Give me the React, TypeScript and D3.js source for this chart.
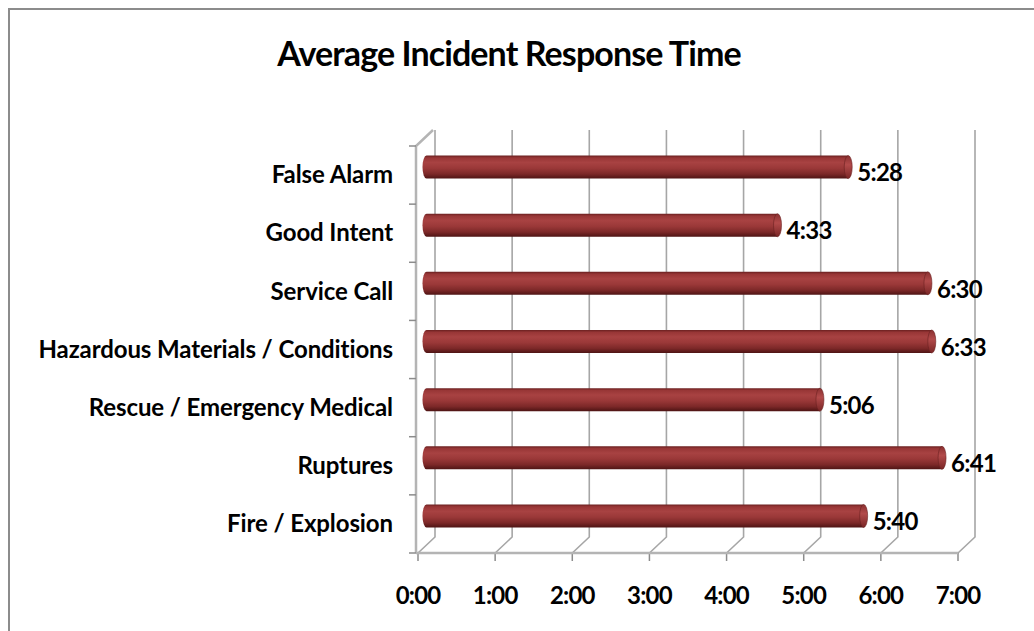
import React, { useEffect, useRef } from 'react';
import * as d3 from 'd3';

// categories listed top to bottom
const categories = [
  'False Alarm',
  'Good Intent',
  'Service Call',
  'Hazardous Materials / Conditions',
  'Rescue / Emergency Medical',
  'Ruptures',
  'Fire / Explosion',
];
// average response time, in seconds
const responseSeconds = [328, 273, 390, 393, 306, 401, 340];
const tickSeconds = [0, 60, 120, 180, 240, 300, 360, 420];

const fmt = (s: number) => `${Math.floor(s / 60)}:${String(s % 60).padStart(2, '0')}`;

const App: React.FC = () => {
  const ref = useRef<SVGSVGElement>(null);

  useEffect(() => {
    if (!ref.current) return;
    const svg = d3.select(ref.current);
    svg.selectAll('*').remove();

    const width = 1034;
    const height = 631;
    const font = 'Lato, "Open Sans", sans-serif';

    // 3d depth offset (front -> back)
    const dx = 17;
    const dy = -16;
    const front = { left: 418, right: 958, top: 146, bottom: 553 };

    const x = d3.scaleLinear().domain([0, 420]).range([front.left, front.right]);
    const y = d3.scaleBand().domain(categories).range([front.top, front.bottom]);

    const defs = svg.append('defs');
    const grad = defs.append('linearGradient')
      .attr('id', 'cyl').attr('x1', 0).attr('y1', 0).attr('x2', 0).attr('y2', 1);
    [
      [0, '#6a2020'], [0.1, '#983636'], [0.3, '#a84242'], [0.55, '#9a3838'],
      [0.8, '#7c2828'], [1, '#4e1414'],
    ].forEach(([o, c]) => grad.append('stop').attr('offset', o as number).attr('stop-color', c as string));
    const capGrad = defs.append('linearGradient')
      .attr('id', 'cap').attr('x1', 0).attr('y1', 0).attr('x2', 0).attr('y2', 1);
    [[0, '#8a3030'], [0.4, '#b24a4a'], [1, '#7a2626']]
      .forEach(([o, c]) => capGrad.append('stop').attr('offset', o as number).attr('stop-color', c as string));

    // outer frame
    svg.append('rect')
      .attr('x', 9).attr('y', 9).attr('width', width + 20).attr('height', height + 20)
      .attr('fill', '#fff').attr('stroke', '#8c8c8c').attr('stroke-width', 2);

    // title
    svg.append('text')
      .attr('x', 509).attr('y', 57)
      .attr('text-anchor', 'middle').attr('dominant-baseline', 'middle')
      .style('font-family', font).style('font-weight', 700).style('font-size', '34px')
      .style('letter-spacing', '-0.9px')
      .text('Average Incident Response Time');

    const wall = svg.append('g');
    const gridColor = '#a6a6a6';

    // back wall gridlines + floor diagonals
    tickSeconds.forEach(t => {
      const xf = x(t);
      const xb = xf + dx;
      wall.append('path')
        .attr('d', `M${xb},${front.top + dy} L${xb},${front.bottom + dy} L${xf},${front.bottom}`)
        .attr('fill', 'none').attr('stroke', gridColor).attr('stroke-width', 1.6);
      wall.append('line')
        .attr('x1', xf).attr('x2', xf).attr('y1', front.bottom).attr('y2', front.bottom + 8)
        .attr('stroke', '#8c8c8c').attr('stroke-width', 1.5);
    });

    // front floor edge
    wall.append('line')
      .attr('x1', front.left - 2).attr('x2', front.right).attr('y1', front.bottom).attr('y2', front.bottom)
      .attr('stroke', '#b4b4b4').attr('stroke-width', 2.5);

    // left wall front edge and top diagonal
    wall.append('path')
      .attr('d', `M${front.left - 2},${front.bottom} L${front.left - 2},${front.top} L${front.left - 2 + dx},${front.top + dy}`)
      .attr('fill', 'none').attr('stroke', '#b4b4b4').attr('stroke-width', 2.5);

    // category ticks
    const boundaries = categories.map(c => y(c) as number).concat([front.bottom]);
    boundaries.forEach(b => {
      wall.append('line')
        .attr('x1', front.left - 9).attr('x2', front.left - 2).attr('y1', b).attr('y2', b)
        .attr('stroke', '#8c8c8c').attr('stroke-width', 1.5);
    });

    // bars (cylinders at mid depth)
    const barH = 23;
    const rx = 4;
    const bars = svg.append('g');
    categories.forEach((c, i) => {
      const cy = (y(c) as number) + y.bandwidth() / 2 + dy / 2;
      const x0 = x(0) + dx / 2;
      const x1 = x(responseSeconds[i]) + dx / 2;
      const top = cy - barH / 2;
      const bot = cy + barH / 2;
      bars.append('path')
        .attr('d', `M${x1},${top} L${x0},${top} A${rx},${barH / 2} 0 0 0 ${x0},${bot} L${x1},${bot} Z`)
        .attr('fill', 'url(#cyl)');
      bars.append('ellipse')
        .attr('cx', x1).attr('cy', cy).attr('rx', rx).attr('ry', barH / 2)
        .attr('fill', 'url(#cap)').attr('stroke', '#6a2020').attr('stroke-width', 0.6);

      svg.append('text')
        .attr('x', x1 + rx + 5)
        .attr('y', (y(c) as number) + y.bandwidth() / 2)
        .attr('dominant-baseline', 'middle')
        .style('font-family', font).style('font-weight', 700).style('font-size', '24px')
        .style('letter-spacing', '-0.7px')
        .text(fmt(responseSeconds[i]));
    });

    // category labels
    categories.forEach(c => {
      svg.append('text')
        .attr('x', 393)
        .attr('y', (y(c) as number) + y.bandwidth() / 2 + 2)
        .attr('text-anchor', 'end').attr('dominant-baseline', 'middle')
        .style('font-family', font).style('font-weight', 700).style('font-size', '24px')
        .style('letter-spacing', '-0.1px')
        .text(c);
    });

    // x tick labels
    tickSeconds.forEach(t => {
      svg.append('text')
        .attr('x', x(t)).attr('y', 598)
        .attr('text-anchor', 'middle').attr('dominant-baseline', 'middle')
        .style('font-family', font).style('font-weight', 700).style('font-size', '24px')
        .style('letter-spacing', '-0.8px')
        .text(fmt(t));
    });
  }, []);

  return (
    <svg
      ref={ref}
      width={1034}
      height={631}
      style={{ position: 'absolute', left: 0, top: 0, display: 'block', background: '#fff' }}
    />
  );
};

export default App;
